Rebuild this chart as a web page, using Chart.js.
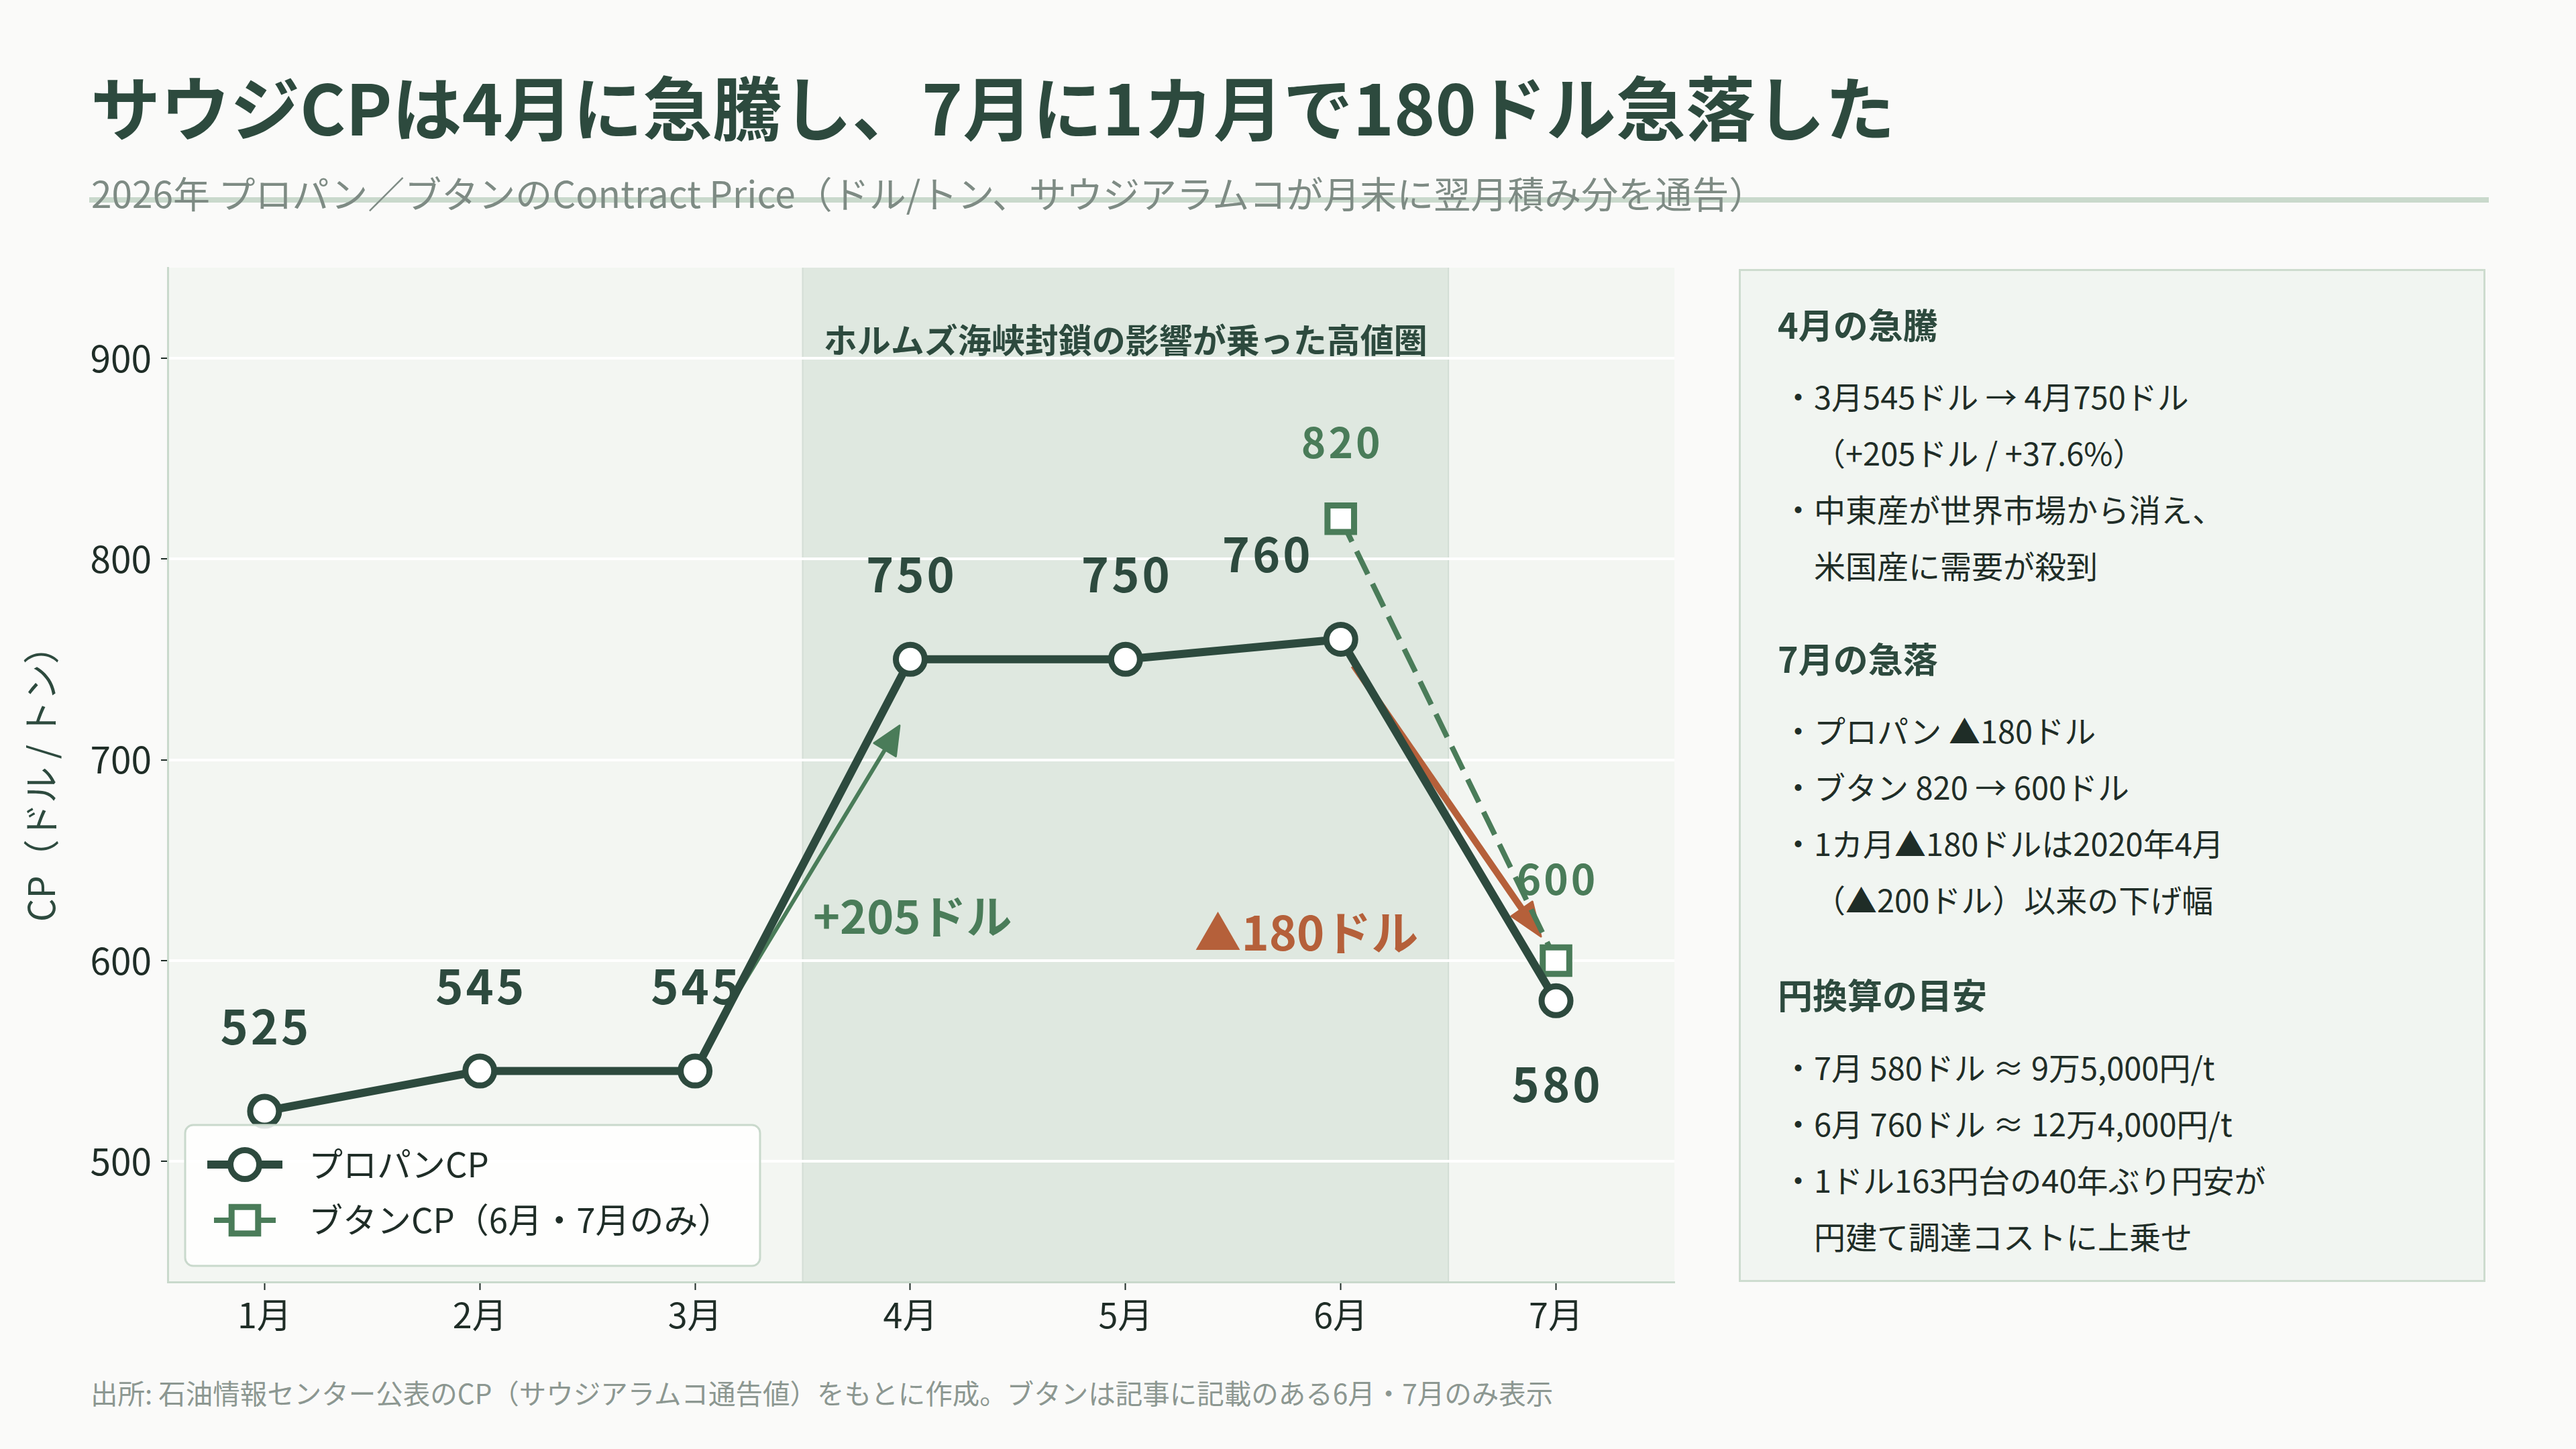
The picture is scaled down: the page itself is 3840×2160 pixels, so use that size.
<!DOCTYPE html>
<html lang="ja">
<head>
<meta charset="utf-8">
<title>サウジCP</title>
<script src="https://cdn.jsdelivr.net/npm/chart.js@4.4.1/dist/chart.umd.min.js"></script>
<style>
html,body{margin:0;padding:0;}
body{width:3840px;height:2160px;background:#fafaf9;position:relative;overflow:hidden;font-family:'Noto Sans CJK JP','Noto Sans',sans-serif;}
#title{position:absolute;left:135px;top:105px;font-size:104px;font-weight:700;color:#2d4a3e;line-height:1;white-space:nowrap;}
#rule{position:absolute;left:133px;top:294px;width:3577px;height:8px;background:#c9d9cc;}
#subtitle{position:absolute;left:136px;top:259px;font-size:55px;color:#7e8b84;line-height:1;white-space:nowrap;}
#chartBox{position:absolute;left:0;top:380px;width:2540px;height:1660px;}
#panel{position:absolute;left:2592px;top:401px;width:1113px;height:1510px;box-sizing:border-box;border:3px solid #cddccf;background:#f1f5f1;}
.ph{position:absolute;left:55px;font-size:52px;font-weight:700;color:#2d4a3e;line-height:60px;height:60px;white-space:nowrap;}
.pb{position:absolute;left:62px;font-size:47px;color:#1f2d27;line-height:60px;height:60px;white-space:nowrap;}
.pc{padding-left:1em;}
#footer{position:absolute;left:135px;top:2056px;font-size:40.5px;color:#8c9791;line-height:1;white-space:nowrap;}
</style>
</head>
<body>
<div id="rule"></div>
<div id="title">サウジCPは4月に急騰し、7月に1カ月で180ドル急落した</div>
<div id="subtitle">2026年 プロパン／ブタンのContract Price（ドル/トン、サウジアラムコが月末に翌月積み分を通告）</div>
<div id="chartBox"><canvas id="c"></canvas></div>
<div id="panel">
  <div class="ph" style="top:49px">4月の急騰</div>
  <div class="pb" style="top:156px">・3月545ドル → 4月750ドル</div>
  <div class="pb pc" style="top:240px">（+205ドル / +37.6%）</div>
  <div class="pb" style="top:324px">・中東産が世界市場から消え、</div>
  <div class="pb pc" style="top:408px">米国産に需要が殺到</div>
  <div class="ph" style="top:547px">7月の急落</div>
  <div class="pb" style="top:654px">・プロパン ▲180ドル</div>
  <div class="pb" style="top:738px">・ブタン 820 → 600ドル</div>
  <div class="pb" style="top:822px">・1カ月▲180ドルは2020年4月</div>
  <div class="pb pc" style="top:906px">（▲200ドル）以来の下げ幅</div>
  <div class="ph" style="top:1048px">円換算の目安</div>
  <div class="pb" style="top:1156px">・7月 580ドル ≈ 9万5,000円/t</div>
  <div class="pb" style="top:1240px">・6月 760ドル ≈ 12万4,000円/t</div>
  <div class="pb" style="top:1324px">・1ドル163円台の40年ぶり円安が</div>
  <div class="pb pc" style="top:1408px">円建て調達コストに上乗せ</div>
</div>
<div id="footer">出所: 石油情報センター公表のCP（サウジアラムコ通告値）をもとに作成。ブタンは記事に記載のある6月・7月のみ表示</div>
<script>
// ---- data ----
const months = ['1月','2月','3月','4月','5月','6月','7月'];
const propane = [525, 545, 545, 750, 750, 760, 580];
const butane = [null, null, null, null, null, 820, 600];
const yTicks = [500, 600, 700, 800, 900];
const propaneName = 'プロパンCP';
const butaneName = 'ブタンCP（6月・7月のみ）';
const yTitle = 'CP（ドル / トン）';
// annotations (data coordinates)
const bandRange = [2.5, 5.5];
const bandLabel = {text: 'ホルムズ海峡封鎖の影響が乗った高値圏', at: [4, 909]};
const riseArrow = {from: [2.08, 563], to: [2.95, 717]};
const fallArrow = {from: [5.06, 747], to: [5.93, 612]};
const riseLabel = {text: '+205ドル', at: [3.01, 622]};
const fallLabel = {text: '▲180ドル', at: [4.84, 614]};

const C = {dark: '#2d4a3e', green: '#4a7c59', orange: '#b5603a', text: '#1f2d27'};
const FONT = "'Noto Sans CJK JP','Noto Sans',sans-serif";
Chart.defaults.font.family = FONT;

const propaneShift = [[0,-126],[0,-126],[0,-126],[0,-126],[0,-126],[-111,-126],[0,125]];
const butaneShift = [[0,-114],[0,-122]];

function drawArrow(ctx, x1, y1, x2, y2, color, w, hl, hw) {
  const a = Math.atan2(y2 - y1, x2 - x1);
  const c = Math.cos(a), s = Math.sin(a);
  const bx = x2 - hl * c, by = y2 - hl * s;
  ctx.save();
  ctx.strokeStyle = color; ctx.fillStyle = color;
  ctx.lineWidth = w; ctx.lineCap = 'butt';
  ctx.beginPath(); ctx.moveTo(x1, y1); ctx.lineTo(bx + c * 2, by + s * 2); ctx.stroke();
  ctx.beginPath();
  ctx.moveTo(x2, y2);
  ctx.lineTo(bx - s * hw / 2, by + c * hw / 2);
  ctx.lineTo(bx + s * hw / 2, by - c * hw / 2);
  ctx.closePath();
  ctx.lineJoin = 'round'; ctx.lineWidth = 3;
  ctx.fill(); ctx.stroke();
  ctx.restore();
}

const bgPlugin = {
  id: 'bg',
  beforeDraw(chart) {
    const {ctx, chartArea: a, scales: {x}} = chart;
    ctx.save();
    ctx.fillStyle = '#f3f6f2';
    ctx.fillRect(a.left, a.top, a.right - a.left, a.bottom - a.top);
    const x1 = x.getPixelForValue(bandRange[0]), x2 = x.getPixelForValue(bandRange[1]);
    ctx.fillStyle = '#dfe8e0';
    ctx.fillRect(x1, a.top, x2 - x1, a.bottom - a.top);
    ctx.strokeStyle = '#d3ded6'; ctx.lineWidth = 2;
    ctx.beginPath();
    ctx.moveTo(x1, a.top); ctx.lineTo(x1, a.bottom);
    ctx.moveTo(x2, a.top); ctx.lineTo(x2, a.bottom);
    ctx.stroke();
    ctx.restore();
  }
};

const arrowPlugin = {
  id: 'arrows',
  beforeDatasetsDraw(chart) {
    const {ctx, scales: {x, y}} = chart;
    const P = p => [x.getPixelForValue(p[0]), y.getPixelForValue(p[1])];
    let f = P(riseArrow.from), t = P(riseArrow.to);
    drawArrow(ctx, f[0], f[1], t[0], t[1], C.green, 6, 42, 38);
    f = P(fallArrow.from); t = P(fallArrow.to);
    drawArrow(ctx, f[0], f[1], t[0], t[1], C.orange, 10, 50, 38);
  }
};

const labelPlugin = {
  id: 'labels',
  afterDatasetsDraw(chart) {
    const {ctx, scales: {x, y}} = chart;
    ctx.save();
    ctx.textAlign = 'center'; ctx.textBaseline = 'middle';
    ctx.fillStyle = C.dark;
    ctx.font = `700 50px ${FONT}`;
    ctx.fillText(bandLabel.text, x.getPixelForValue(bandLabel.at[0]), y.getPixelForValue(bandLabel.at[1]));
    ctx.font = `700 70px ${FONT}`;
    ctx.letterSpacing = '4px';
    chart.getDatasetMeta(0).data.forEach((pt, i) => {
      const s = propaneShift[i];
      ctx.fillText(String(propane[i]), pt.x + s[0] + 2, pt.y + s[1]);
    });
    ctx.fillStyle = C.green;
    ctx.font = `700 62px ${FONT}`;
    const bv = butane.filter(v => v != null);
    chart.getDatasetMeta(1).data.forEach((pt, i) => {
      const s = butaneShift[i];
      ctx.fillText(String(bv[i]), pt.x + s[0] + 2, pt.y + s[1]);
    });
    ctx.letterSpacing = '0px';
    ctx.font = `700 68px ${FONT}`;
    ctx.fillText(riseLabel.text, x.getPixelForValue(riseLabel.at[0]), y.getPixelForValue(riseLabel.at[1]));
    ctx.fillStyle = C.orange;
    ctx.font = `700 70px ${FONT}`;
    ctx.fillText(fallLabel.text, x.getPixelForValue(fallLabel.at[0]), y.getPixelForValue(fallLabel.at[1]));
    ctx.restore();
  }
};

function roundRectPath(ctx, x, y, w, h, r) {
  ctx.beginPath();
  ctx.moveTo(x + r, y);
  ctx.lineTo(x + w - r, y); ctx.arcTo(x + w, y, x + w, y + r, r);
  ctx.lineTo(x + w, y + h - r); ctx.arcTo(x + w, y + h, x + w - r, y + h, r);
  ctx.lineTo(x + r, y + h); ctx.arcTo(x, y + h, x, y + h - r, r);
  ctx.lineTo(x, y + r); ctx.arcTo(x, y, x + r, y, r);
  ctx.closePath();
}

const legendPlugin = {
  id: 'customLegend',
  afterDraw(chart) {
    const {ctx, chartArea: a} = chart;
    const bx = a.left + 26, by = a.bottom - 234, bw = 857, bh = 210;
    ctx.save();
    roundRectPath(ctx, bx, by, bw, bh, 12);
    ctx.fillStyle = 'rgba(255,255,255,0.85)'; ctx.fill();
    ctx.strokeStyle = '#c9d9cc'; ctx.lineWidth = 3; ctx.stroke();
    const mx = bx + 89, tx = bx + 184;
    let ry = by + 59;
    ctx.strokeStyle = C.dark; ctx.lineWidth = 12; ctx.lineCap = 'butt';
    ctx.beginPath(); ctx.moveTo(mx - 56, ry); ctx.lineTo(mx + 56, ry); ctx.stroke();
    ctx.beginPath(); ctx.arc(mx, ry, 21.5, 0, Math.PI * 2);
    ctx.fillStyle = '#fff'; ctx.fill(); ctx.lineWidth = 9; ctx.stroke();
    ry = by + 142;
    ctx.strokeStyle = C.green; ctx.lineWidth = 8;
    ctx.beginPath(); ctx.moveTo(mx - 46, ry); ctx.lineTo(mx + 46, ry); ctx.stroke();
    const hs = 28 * Math.SQRT1_2;
    ctx.fillStyle = '#fff';
    ctx.beginPath(); ctx.rect(mx - hs, ry - hs, hs * 2, hs * 2); ctx.fill();
    ctx.lineWidth = 9; ctx.stroke();
    ctx.fillStyle = C.text; ctx.font = `400 51px ${FONT}`;
    ctx.textAlign = 'left'; ctx.textBaseline = 'middle';
    ctx.fillText(propaneName, tx, by + 59);
    ctx.fillText(butaneName, tx, by + 142);
    ctx.restore();
  }
};

new Chart(document.getElementById('c'), {
  type: 'line',
  data: {
    datasets: [
      {
        label: propaneName,
        data: propane.map((v, i) => ({x: i, y: v})),
        borderColor: C.dark, borderWidth: 12,
        pointStyle: 'circle', pointRadius: 21.5, pointBorderWidth: 9,
        pointBackgroundColor: '#ffffff', pointBorderColor: C.dark,
        tension: 0, clip: false
      },
      {
        label: butaneName,
        data: butane.map((v, i) => (v == null ? null : {x: i, y: v})).filter(Boolean),
        borderColor: C.green, borderWidth: 8, borderDash: [38, 16],
        pointStyle: 'rect', pointRadius: 28, pointBorderWidth: 9,
        pointBackgroundColor: '#ffffff', pointBorderColor: C.green,
        tension: 0, clip: false
      }
    ]
  },
  options: {
    responsive: true, maintainAspectRatio: false, devicePixelRatio: 1,
    animation: false, events: [],
    layout: {autoPadding: false, padding: {top: 19, right: 44, left: 0, bottom: 0}},
    plugins: {legend: {display: false}, tooltip: {enabled: false}, title: {display: false}},
    scales: {
      x: {
        type: 'linear', min: -0.45, max: 6.55,
        afterBuildTicks: s => { s.ticks = months.map((m, i) => ({value: i})); },
        afterFit: s => { s.height = 129; s.paddingLeft = 0; s.paddingRight = 0; },
        ticks: {callback: v => months[v], font: {size: 52}, color: C.text, padding: 6, autoSkip: false, maxRotation: 0},
        grid: {drawOnChartArea: false, drawTicks: true, tickLength: 12, tickColor: C.text, tickWidth: 2, color: 'rgba(0,0,0,0)'},
        border: {display: true, color: '#c9d9cc', width: 3}
      },
      y: {
        min: 440, max: 945,
        afterBuildTicks: s => { s.ticks = yTicks.map(v => ({value: v})); },
        afterFit: s => { s.width = 250; s.paddingTop = 0; s.paddingBottom = 0; },
        ticks: {font: {size: 55}, color: C.text, padding: 14},
        grid: {color: '#ffffff', lineWidth: 4, tickLength: 10, tickColor: C.text, tickWidth: 2},
        border: {display: true, color: '#c9d9cc', width: 3},
        title: {display: true, text: yTitle, font: {size: 54}, color: C.dark, padding: {top: 29, bottom: 0}}
      }
    }
  },
  plugins: [bgPlugin, arrowPlugin, labelPlugin, legendPlugin]
});
</script>
</body>
</html>
